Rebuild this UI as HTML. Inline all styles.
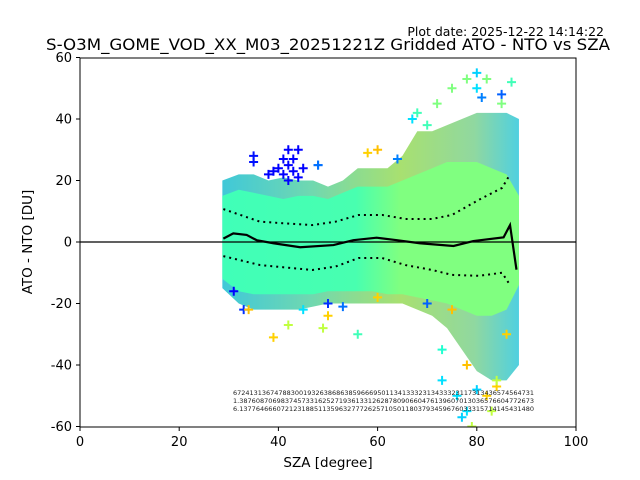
<!DOCTYPE html>
<html><head><meta charset="utf-8"><style>
body{margin:0;background:#fff;}
svg{display:block;font-family:"DejaVu Sans","Liberation Sans",sans-serif;}
</style></head><body>
<svg id="chart" width="640" height="480" viewBox="0 0 640 480" xmlns="http://www.w3.org/2000/svg">
<rect width="640" height="480" fill="#fff"/>
<text x="604" y="36" font-size="12.5" text-anchor="end">Plot date: 2025-12-22 14:14:22</text>
<text x="328" y="50" font-size="16" text-anchor="middle" textLength="564" lengthAdjust="spacingAndGlyphs">S-O3M_GOME_VOD_XX_M03_20251221Z Gridded ATO - NTO vs SZA</text>
<defs>
<linearGradient id="outerG" x1="0" x2="1" y1="0" y2="0">
<stop offset="0" stop-color="#40c8d8"/><stop offset="0.3" stop-color="#70d8b0"/><stop offset="0.6" stop-color="#a8e070"/><stop offset="0.85" stop-color="#90d8a0"/><stop offset="1" stop-color="#50d0e0"/>
</linearGradient>
<linearGradient id="coreG" x1="0" x2="1" y1="0" y2="0">
<stop offset="0" stop-color="#40ffb8"/><stop offset="0.45" stop-color="#48ffb0"/><stop offset="0.6" stop-color="#80ff80"/><stop offset="1" stop-color="#80ff80"/>
</linearGradient>
<clipPath id="plotClip"><rect x="80" y="58" width="496" height="369"/></clipPath>
</defs>
<g id="plot" clip-path="url(#plotClip)"></g>
<g id="axes"></g>
</svg>
<script>
const binSza=[28.7,32,35,38,41,44,47,50,53,56,59,62,65,68,71,74,77,80,83,86,88.5];
const outerUp=[20,22,22,20,21,20,20,18,20,24,24,24,28,36,36,38,40,42,42,42,40];
const outerLo=[-15,-20,-22,-22,-22,-22,-21,-20,-20,-20,-20,-20,-20,-22,-24,-28,-35,-42,-45,-45,-40];
const coreUp=[15,17,16,15,14,15,15,14,16,18,18,18,20,22,24,26,26,26,24,22,15];
const coreLo=[-12,-16,-17,-17,-17,-17,-17,-16,-16,-16,-16,-17,-17,-18,-19,-20,-22,-24,-24,-22,-14];
const lineSza=[28.9,30.9,33.6,35.6,39.0,44.4,51.1,55.1,59.8,63.9,68.5,75.3,79.3,85.4,86.7,88.0];
const meanVals=[1.1,2.8,2.3,0.6,-0.4,-1.7,-1.0,0.6,1.4,0.6,-0.4,-1.3,0.3,1.5,5.5,-9];
const stdSza=[28.9,36.3,46.8,51.5,56.2,60.9,65.6,71,75,80.4,85.1,86.7];
const stdUp=[10.7,6.6,5.5,6.6,8.8,8.8,7.5,7.5,8.8,13.7,17.6,22];
const stdLo=[-4.6,-7.5,-9.1,-8,-5.2,-5.2,-7.5,-9.1,-10.7,-11,-10,-14];
const ptSza=[41,42,42,43,44,41,40,43,45,38,39,42,44,35,35,48,31,50,33,48,53,64,81,85,70,39,58,60,50,34,78,82,84,86,75,76,77,78,73,80,73,80,82,80,67,68,78,75,72,87,85,79,83,84,42,49,56,45,60,70];
const ptVal=[22,25,30,27,30,27,24,23,24,22,23,20,21,26,28,25,-16,-20,-22,25,-21,27,47,48,-20,-31,29,30,-24,-22,-40,-50,-47,-30,-22,-50,-57,-55,-45,-48,-35,50,53,55,40,42,53,50,45,52,45,-60,-55,-45,-27,-28,-30,-22,-18,38];
const ptCol=["#0000ff","#0000ff","#0000ff","#0000ff","#0000ff","#0000ff","#0000ff","#0000ff","#0000ff","#0000ff","#0000ff","#0000ff","#0000ff","#0010ff","#0010ff","#0070ff","#0000ff","#0030ff","#0030ff","#0070ff","#0070ff","#0080ff","#0080ff","#0060ff","#0060ff","#ffd000","#ffd000","#ffc000","#ffd000","#ffc000","#ffc000","#ffd000","#ffd000","#ffd000","#ffc000","#00e0ff","#00d0ff","#00e0ff","#00e0ff","#00d0ff","#20ffd0","#00e0ff","#80ff80","#00d0ff","#00e0ff","#40ffb8","#80ff80","#80ff80","#80ff80","#40ffb8","#80ff80","#c0ff40","#c0ff40","#c0ff40","#c0ff40","#c0ff40","#40ffb8","#00e0ff","#ffd000","#40ffb8"];
const xTicks=[0,20,40,60,80,100];
const yTicks=[-60,-40,-20,0,20,40,60];
const countRows=["6724131367478830019326386863859666950113413332313433323117313436574564731","1.38760870698374573316252719361331262878090660476139607013036576604772673","6.13776466607212318851135963277726257105011803793459676033315714145431480"];

const NS="http://www.w3.org/2000/svg";
const X=v=>80+v*4.96, Y=v=>242-v*3.075;
const plot=document.getElementById('plot'), axes=document.getElementById('axes');
function mk(tag,attrs,parent){const e=document.createElementNS(NS,tag);for(const k in attrs)e.setAttribute(k,attrs[k]);parent.appendChild(e);return e;}
function band(up,lo,xs,fill){
  let d='M'+xs.map((s,i)=>X(s)+','+Y(up[i])).join(' L');
  d+=' L'+xs.slice().reverse().map((s,i)=>X(s)+','+Y(lo[lo.length-1-i])).join(' L')+' Z';
  return mk('path',{d:d,fill:fill},plot);
}
let e=band(outerUp,outerLo,binSza,'url(#outerG)');


e=band(coreUp,coreLo,binSza,'url(#coreG)');


ptSza.forEach((s,i)=>{
  const cx=X(s),cy=Y(ptVal[i]);
  const p=mk('path',{d:`M${cx-4.5},${cy} H${cx+4.5} M${cx},${cy-4.5} V${cy+4.5}`,stroke:ptCol[i],'stroke-width':2},plot);
  
  
});
e=mk('line',{x1:80,x2:576,y1:Y(0),y2:Y(0),stroke:'#000','stroke-width':1.3},plot);


e=mk('polyline',{points:lineSza.map((s,i)=>X(s)+','+Y(meanVals[i])).join(' '),fill:'none',stroke:'#000','stroke-width':2.2},plot);


e=mk('polyline',{points:stdSza.map((s,i)=>X(s)+','+Y(stdUp[i])).join(' '),fill:'none',stroke:'#000','stroke-width':2,'stroke-dasharray':'2 4'},plot);


e=mk('polyline',{points:stdSza.map((s,i)=>X(s)+','+Y(stdLo[i])).join(' '),fill:'none',stroke:'#000','stroke-width':2,'stroke-dasharray':'2 4'},plot);


countRows.forEach((r,i)=>{
  const t=mk('text',{x:233,y:395+i*8,'font-size':6,textLength:301,lengthAdjust:'spacingAndGlyphs',fill:'#222'},plot);
  t.textContent=r;
  
  
});
e=mk('rect',{x:80,y:58,width:496,height:369,fill:'none',stroke:'#000','stroke-width':1},axes);


xTicks.forEach(v=>{
  mk('line',{x1:X(v),x2:X(v),y1:427,y2:431,stroke:'#000'},axes);
  const t=mk('text',{x:X(v),y:446,'font-size':13,'text-anchor':'middle'},axes);
  t.textContent=v;
  
  
});
yTicks.forEach(v=>{
  mk('line',{x1:76,x2:80,y1:Y(v),y2:Y(v),stroke:'#000'},axes);
  const t=mk('text',{x:72,y:Y(v)+4.5,'font-size':13,'text-anchor':'end'},axes);
  t.textContent=v;
  
  
});
let t=mk('text',{x:328,y:467,'font-size':13.5,'text-anchor':'middle'},axes);
t.textContent='SZA [degree]';


t=mk('text',{x:32,y:242,'font-size':13.5,'text-anchor':'middle',transform:'rotate(-90 32 242)'},axes);
t.textContent='ATO - NTO [DU]';


</script>
</body></html>
